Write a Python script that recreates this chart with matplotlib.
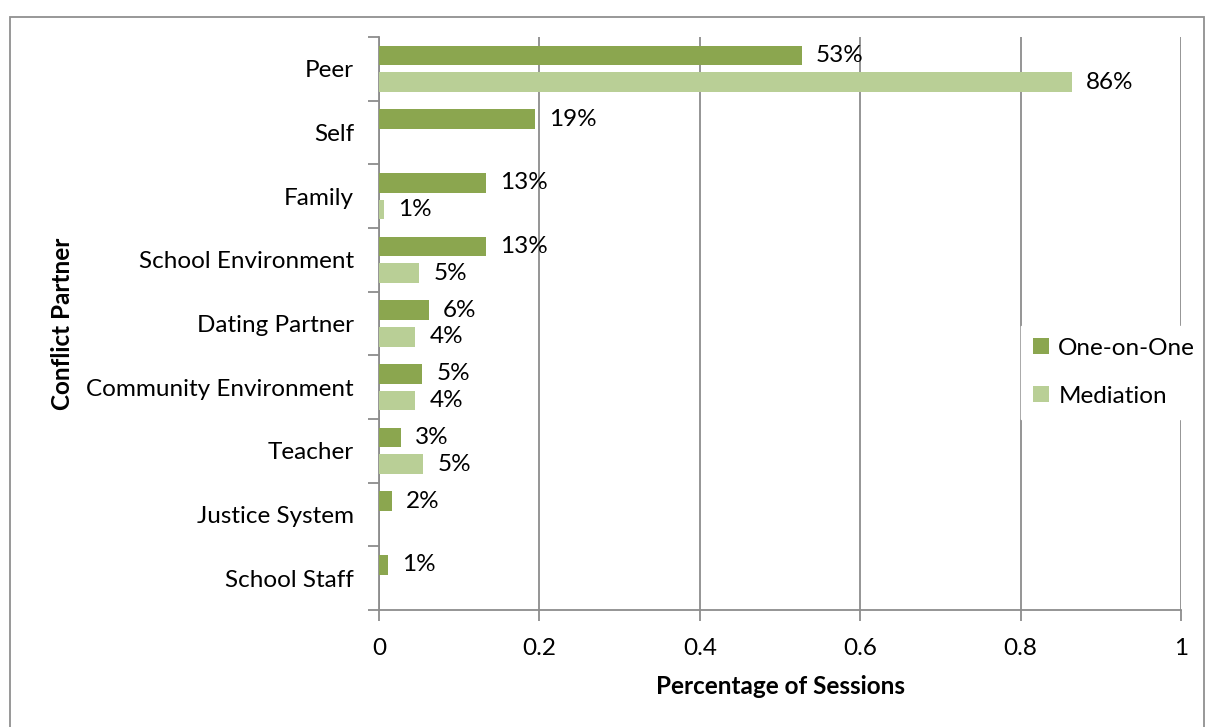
import matplotlib.pyplot as plt
import numpy as np
from matplotlib.patches import Rectangle

plt.rcParams['font.family'] = ['Lato', 'DejaVu Sans']

# data
partners = ['Peer', 'Self', 'Family', 'School Environment', 'Dating Partner',
            'Community Environment', 'Teacher', 'Justice System', 'School Staff']
one_on_one = [0.527, 0.194, 0.133, 0.133, 0.062, 0.054, 0.027, 0.016, 0.011]
one_labels = ['53%', '19%', '13%', '13%', '6%', '5%', '3%', '2%', '1%']
mediation = [0.864, 0, 0.006, 0.050, 0.045, 0.045, 0.055, 0, 0]
med_labels = ['86%', '', '1%', '5%', '4%', '4%', '5%', '', '']

dark = '#8ba64f'
light = '#b9cf96'
grid_col = '#8c8c8c'
fs = 17.5

fig = plt.figure(figsize=(12.06, 7.27), dpi=100)
ax = fig.add_axes([379 / 1206, 117 / 727, 802 / 1206, 573 / 727])

y = np.arange(len(partners))
h = 0.31
off = 0.21
ax.barh(y - off, one_on_one, height=h, color=dark, label='One-on-One', zorder=3)
ax.barh(y + off, mediation, height=h, color=light, label='Mediation', zorder=3)

for i in range(len(partners)):
    if one_labels[i]:
        ax.text(one_on_one[i] + 0.018, y[i] - off, one_labels[i], va='center', fontsize=fs, zorder=4)
    if med_labels[i]:
        ax.text(mediation[i] + 0.018, y[i] + off, med_labels[i], va='center', fontsize=fs, zorder=4)

ax.set_ylim(len(partners) - 0.5, -0.5)
ax.set_xlim(0, 1)
ax.set_yticks(y)
ax.set_yticklabels(partners, fontsize=fs)
ax.set_yticks(np.arange(-0.5, len(partners)), minor=True)
ax.tick_params(axis='y', which='major', length=0, pad=18)
ax.tick_params(axis='y', which='minor', length=8, color=grid_col, width=1.3)
ax.set_xticks([0, 0.2, 0.4, 0.6, 0.8, 1])
ax.set_xticklabels(['0', '0.2', '0.4', '0.6', '0.8', '1'], fontsize=fs)
ax.tick_params(axis='x', length=8, color=grid_col, width=1.3, pad=12)

ax.grid(axis='x', color=grid_col, linewidth=1.3, zorder=0)
for s in ['top', 'right']:
    ax.spines[s].set_visible(False)
for s in ['left', 'bottom']:
    ax.spines[s].set_color(grid_col)
    ax.spines[s].set_linewidth(1.3)

ax.set_xlabel('Percentage of Sessions', fontsize=fs, fontweight='bold', labelpad=12)
ax.set_ylabel('Conflict Partner', fontsize=fs, fontweight='bold')
ax.yaxis.set_label_coords(-0.38, 0.5)

leg = ax.legend(loc='center left', bbox_to_anchor=(0.8, 0.415), frameon=True, fontsize=fs,
                handlelength=0.65, handleheight=0.65, handletextpad=0.4, labelspacing=1.1,
                borderaxespad=0, borderpad=0.5, fancybox=False)
leg.get_frame().set_edgecolor('white')
leg.get_frame().set_facecolor('white')
leg.get_frame().set_alpha(1)

fig.patches.append(Rectangle((10 / 1206, -0.05), 1194 / 1206, 1.05 - 17 / 727,
                             transform=fig.transFigure, fill=False,
                             edgecolor='#909090', linewidth=1.3))

fig.savefig('out.png', dpi=100)
